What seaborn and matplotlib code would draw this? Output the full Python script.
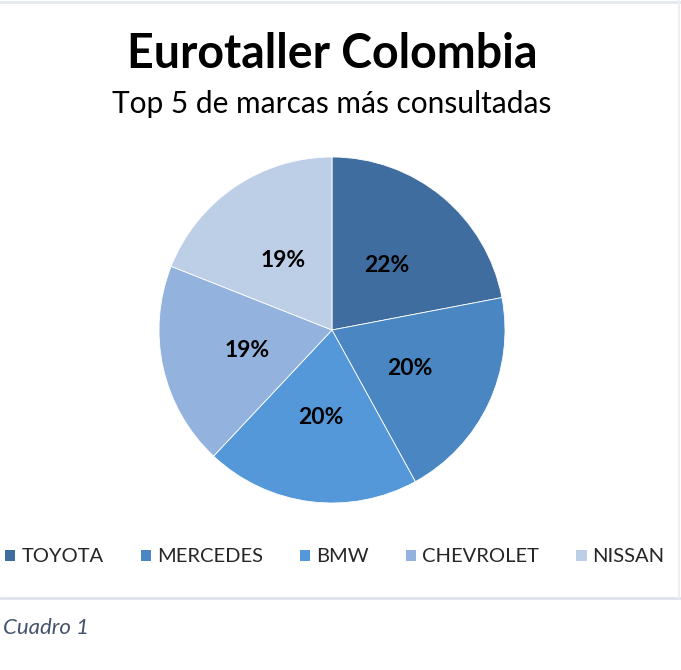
import matplotlib
matplotlib.use("Agg")
import matplotlib.pyplot as plt
from matplotlib.lines import Line2D
from matplotlib.patches import Patch
import seaborn as sns

# Data
marcas = ["TOYOTA", "MERCEDES", "BMW", "CHEVROLET", "NISSAN"]
porcentajes = [22, 20, 20, 19, 19]
colores = ["#3f6d9f", "#4a86c2", "#5598d9", "#93b3de", "#bdcee7"]

titulo = "Eurotaller Colombia"
subtitulo = "Top 5 de marcas más consultadas"
pie_texto = "Cuadro 1"

sns.set_theme(style="white")
plt.rcParams["font.family"] = ["Lato", "DejaVu Sans"]


def main():
    fig = plt.figure(figsize=(6.81, 6.70), dpi=100)
    W, H = 681, 670

    # pie centre (332, 330), radius ~173 px
    cx, cy, r = 332, 330, 173
    ax = fig.add_axes([(cx - r) / W, 1 - (cy + r) / H, 2 * r / W, 2 * r / H])
    palette = sns.color_palette(colores)
    wedges, texts, autotexts = ax.pie(
        porcentajes,
        colors=palette,
        startangle=90,
        counterclock=False,
        autopct=lambda p: f"{p:.0f}%",
        pctdistance=0.5,
        wedgeprops=dict(edgecolor="white", linewidth=0.6),
        textprops=dict(fontsize=16.5, fontweight="bold", color="black"),
    )
    for t in autotexts:
        t.set_va("center_baseline")
    ax.set_xlim(-1, 1)
    ax.set_ylim(-1, 1)
    ax.set_aspect("equal")
    ax.axis("off")

    fig.text(cx / W, 1 - 54 / H, titulo, ha="center", va="center",
             fontsize=33.5, fontweight="bold", color="black")
    fig.text(cx / W, 1 - 104 / H, subtitulo, ha="center", va="center",
             fontsize=21.5, color="black")

    handles = [Patch(facecolor=c, edgecolor="none") for c in palette]
    fig.legend(handles, marcas, loc="center", bbox_to_anchor=(335 / W, 1 - 557 / H),
               ncol=5, frameon=False, fontsize=14.5, handlelength=0.5,
               handleheight=0.5, handletextpad=0.3, columnspacing=1.85)

    # light frame lines and caption
    fig.add_artist(Line2D([0, 1], [1 - 598 / H, 1 - 598 / H], color="#dfe4ec",
                          linewidth=2, transform=fig.transFigure))
    fig.add_artist(Line2D([0, 1], [1 - 1.5 / H, 1 - 1.5 / H], color="#e3e7ee",
                          linewidth=2, transform=fig.transFigure))
    fig.add_artist(Line2D([1 - 2 / W, 1 - 2 / W], [1 - 598 / H, 1], color="#eceff4",
                          linewidth=1.5, transform=fig.transFigure))
    fig.text(3 / W, 1 - 628 / H, pie_texto, ha="left", va="center",
             fontsize=16, fontstyle="italic", color="#44546a")

    fig.savefig("out.png", dpi=100, facecolor="white")


if __name__ == "__main__":
    main()
